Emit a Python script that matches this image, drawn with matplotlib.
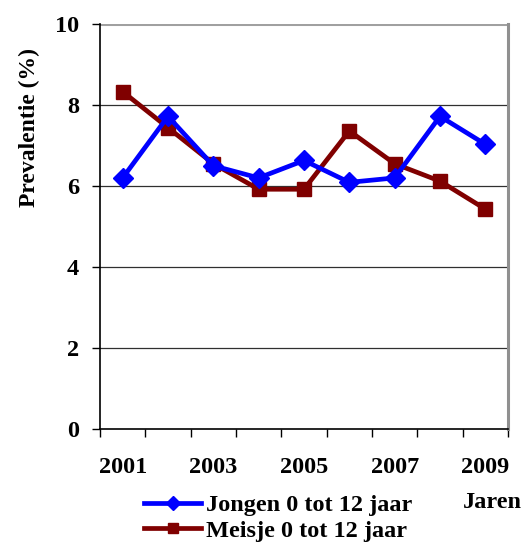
import numpy as np
import matplotlib.pyplot as plt
from matplotlib.lines import Line2D

# prevalence data per year
years = ["2001", "2002", "2003", "2004", "2005", "2006", "2007", "2008", "2009"]
jongen = [6.2, 7.72, 6.5, 6.2, 6.63, 6.09, 6.2, 7.72, 7.03]
meisje = [8.33, 7.44, 6.55, 5.92, 5.92, 7.36, 6.55, 6.12, 5.43]
yticks = [0, 2, 4, 6, 8, 10]

BLUE = "#0000ff"
RED = "#800000"

plt.rcParams["font.family"] = ["Liberation Serif", "DejaVu Serif"]
plt.rcParams["font.weight"] = "bold"
plt.rcParams["axes.labelweight"] = "bold"

FS = 17.5

fig = plt.figure(figsize=(5.26, 5.44), dpi=100)
ax = fig.add_axes([100/526, 1 - 429/544, 408/526, 405/544])

x = np.arange(len(years))
ax.plot(x, jongen, color=BLUE, lw=3.4, marker="D", ms=10, mec=BLUE, mfc=BLUE, zorder=4)
ax.plot(x, meisje, color=RED, lw=3.4, marker="s", ms=9.5, mec=RED, mfc=RED, zorder=3)

ax.set_xlim(-0.5, len(years) - 0.5)
ax.set_ylim(0, 10)

# horizontal gridlines
for v in yticks[1:-1]:
    ax.axhline(v, color="#303030", lw=0.9, zorder=1)
ax.axhline(10, color="#a0a0a0", lw=2.2, zorder=1)

ax.spines["top"].set_visible(False)
ax.spines["right"].set_color("#909090")
ax.spines["right"].set_linewidth(2.2)
ax.spines["left"].set_linewidth(1.2)
ax.spines["bottom"].set_linewidth(1.2)

ax.set_yticks(yticks)
ax.tick_params(axis="y", direction="out", length=6, width=1, labelsize=FS, pad=9)

# category boundaries as ticks, year labels at odd years
ax.set_xticks(np.arange(-0.5, len(years), 1.0))
ax.set_xticklabels([])
ax.tick_params(axis="x", which="major", direction="out", length=6, width=1)
ax.set_xticks(x[::2], minor=True)
ax.set_xticklabels(years[::2], minor=True)
ax.tick_params(axis="x", which="minor", length=0, labelsize=FS, pad=20)

ax.set_ylabel("Prevalentie (%)", fontsize=17, fontweight="bold")
ax.yaxis.set_label_coords(-0.148, 0.745)

fig.text(463/526, 1 - 503/544, "Jaren", fontsize=FS, ha="left", va="center")

handles = [
    Line2D([], [], color=BLUE, lw=3.4, marker="D", ms=7.5),
    Line2D([], [], color=RED, lw=3.4, marker="s", ms=7),
]
fig.legend(handles, ["Jongen 0 tot 12 jaar", "Meisje 0 tot 12 jaar"],
           loc="center left", bbox_to_anchor=(144/526, 1 - 518/544),
           frameon=False, fontsize=FS, handlelength=2.35, handletextpad=0.2,
           labelspacing=0.15, borderpad=0, borderaxespad=0)

fig.savefig("out.png", dpi=100)
